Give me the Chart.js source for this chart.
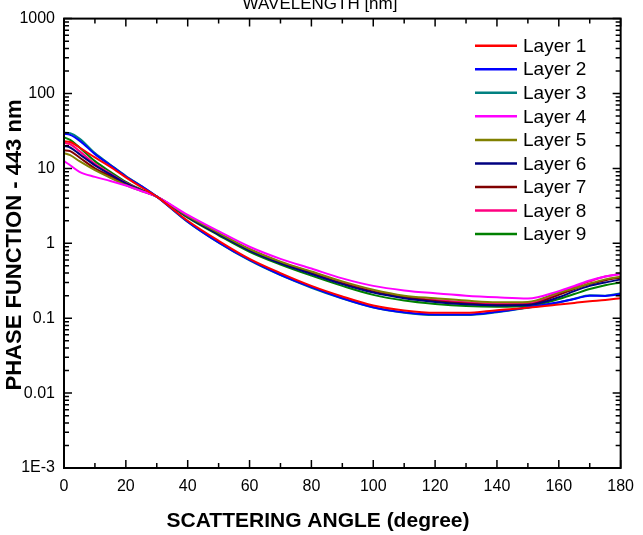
<!DOCTYPE html>
<html><head><meta charset="utf-8">
<script src="https://cdn.jsdelivr.net/npm/chart.js@4/dist/chart.umd.min.js"></script>
<style>html,body{margin:0;padding:0;background:#fff}#wrap{width:643px;height:535px}</style>
</head><body><div id="wrap"><canvas id="c" width="643" height="535"></canvas></div>
<script>
const angles = [0,2,5,10,15,20,25,30,40,50,60,70,80,90,100,110,120,130,140,150,160,165,170,175,180];
const layer1 = [23,22.5,19,14,10.5,7.6,5.6,4.2,2.0,1.08,0.62,0.4,0.27,0.195,0.148,0.127,0.118,0.118,0.128,0.138,0.152,0.16,0.168,0.175,0.185];
const layer2 = [29,28,23.5,15.5,11,7.8,5.8,4.2,1.95,1.03,0.6,0.38,0.26,0.185,0.14,0.12,0.112,0.112,0.122,0.14,0.163,0.18,0.2,0.198,0.21];
const layer3 = [30,29.5,25,16,11.2,7.9,5.8,4.2,1.93,1.02,0.59,0.375,0.255,0.183,0.139,0.118,0.11,0.11,0.12,0.138,0.162,0.182,0.202,0.2,0.215];
const layer4 = [12.5,11,9,7.7,6.8,5.9,5.0,4.2,2.4,1.45,0.9,0.62,0.46,0.34,0.27,0.235,0.215,0.2,0.19,0.183,0.23,0.27,0.32,0.36,0.39];
const layer5 = [16,15,12.5,9.5,7.5,6.0,5.0,4.2,2.3,1.38,0.84,0.57,0.42,0.31,0.24,0.2,0.185,0.172,0.163,0.165,0.22,0.25,0.29,0.33,0.36];
const layer6 = [20,19,15.5,11,8.3,6.3,5.1,4.2,2.25,1.32,0.8,0.54,0.39,0.285,0.22,0.185,0.165,0.153,0.148,0.15,0.19,0.23,0.27,0.3,0.33];
const layer7 = [17.5,17,14,10,7.9,6.2,5.1,4.2,2.28,1.35,0.82,0.55,0.4,0.29,0.225,0.19,0.17,0.157,0.15,0.152,0.205,0.245,0.285,0.32,0.35];
const layer8 = [22,21,17,11.5,8.5,6.4,5.1,4.2,2.3,1.36,0.83,0.56,0.41,0.3,0.23,0.195,0.175,0.163,0.155,0.158,0.215,0.26,0.31,0.36,0.39];
const layer9 = [26,24,19,12.5,9,6.6,5.2,4.2,2.2,1.28,0.77,0.52,0.37,0.27,0.205,0.172,0.155,0.145,0.142,0.145,0.18,0.21,0.245,0.275,0.3];
const layerNames = ['Layer 1','Layer 2','Layer 3','Layer 4','Layer 5','Layer 6','Layer 7','Layer 8','Layer 9'];
const layerColors = ['#ff0000','#0000ff','#008080','#ff00ff','#808000','#000080','#800000','#ff0080','#008000'];
const yTickValues = [1000,100,10,1,0.1,0.01,0.001];
const yTickLabels = ['1000','100','10','1','0.1','0.01','1E-3'];
const xTickValues = [0,20,40,60,80,100,120,140,160,180];
const xMinorValues = [10,30,50,70,90,110,130,150,170];
const titleText = 'WAVELENGTH [nm]';
const xTitle = 'SCATTERING ANGLE (degree)';
const yTitle = 'PHASE FUNCTION - 443 nm';

const allLayers = [layer1,layer2,layer3,layer4,layer5,layer6,layer7,layer8,layer9];
const FONT = '"Liberation Sans", Arial, sans-serif';

const decorPlugin = {
  id: 'decor',
  afterDraw(chart) {
    const ctx = chart.ctx, a = chart.chartArea;
    const xs = chart.scales.x, ys = chart.scales.y;
    ctx.save();
    ctx.strokeStyle = '#000';
    ctx.lineWidth = 1.5;
    ctx.beginPath();
    const tick = (x1,y1,x2,y2)=>{ctx.moveTo(x1,y1);ctx.lineTo(x2,y2);};
    xTickValues.forEach(v=>{const p=xs.getPixelForValue(v);tick(p,a.bottom,p,a.bottom-8);tick(p,a.top,p,a.top+8);});
    xMinorValues.forEach(v=>{const p=xs.getPixelForValue(v);tick(p,a.bottom,p,a.bottom-5);tick(p,a.top,p,a.top+5);});
    yTickValues.forEach(v=>{const p=ys.getPixelForValue(v);tick(a.left,p,a.left+8,p);tick(a.right,p,a.right-8,p);});
    yTickValues.forEach(v=>{ if(v>=1000) return; for(let k=2;k<=9;k++){const p=ys.getPixelForValue(v*k);tick(a.left,p,a.left+5,p);tick(a.right,p,a.right-5,p);} });
    ctx.stroke();
    ctx.lineWidth = 2;
    ctx.strokeRect(a.left, a.top, a.right-a.left, a.bottom-a.top);
    // titles
    ctx.fillStyle = '#000';
    ctx.textAlign = 'center';
    ctx.textBaseline = 'alphabetic';
    ctx.font = '17px ' + FONT;
    ctx.fillText(titleText, 320, 9);
    ctx.font = 'bold 21px ' + FONT;
    ctx.textBaseline = 'middle';
    ctx.fillText(xTitle, 318, 521);
    ctx.save();
    ctx.font = 'bold 22px ' + FONT;
    ctx.translate(15, 245);
    ctx.rotate(-Math.PI/2);
    ctx.fillText(yTitle, 0, 0);
    ctx.restore();
    // legend
    ctx.font = '19px ' + FONT;
    ctx.textAlign = 'left';
    chart.data.datasets.forEach((ds,i)=>{
      const y = 45.7 + i*23.55;
      ctx.strokeStyle = ds.borderColor;
      ctx.lineWidth = 2.5;
      ctx.beginPath(); ctx.moveTo(475,y); ctx.lineTo(517,y); ctx.stroke();
      ctx.fillStyle = '#000';
      ctx.fillText(ds.label, 523, y+1);
    });
    ctx.restore();
  }
};

new Chart(document.getElementById('c'), {
  type: 'line',
  data: {
    datasets: allLayers.map((vals,i)=>({
      label: layerNames[i],
      data: angles.map((ang,j)=>({x:ang,y:vals[j]})),
      borderColor: layerColors[i],
      backgroundColor: layerColors[i],
      borderWidth: 2,
      pointRadius: 0,
      fill: false,
      cubicInterpolationMode: 'monotone'
    }))
  },
  options: {
    responsive: false,
    animation: false,
    devicePixelRatio: 1,
    layout: { padding: { top: 18, right: 19, left: 0, bottom: 0 } },
    plugins: { legend: { display: false }, tooltip: { enabled: false } },
    scales: {
      x: {
        type: 'linear', min: 0, max: 180,
        afterBuildTicks: s => { s.ticks = xTickValues.map(v=>({value:v})); },
        afterFit: s => { s.height = 67; },
        grid: { display: false, drawTicks: false },
        border: { display: false },
        ticks: { color: '#000', font: { family: FONT, size: 16 }, padding: 9, maxRotation: 0, autoSkip: false }
      },
      y: {
        type: 'logarithmic', min: 0.001, max: 1000,
        afterBuildTicks: s => { s.ticks = yTickValues.map(v=>({value:v})); },
        afterFit: s => { s.width = 64; },
        grid: { display: false, drawTicks: false },
        border: { display: false },
        ticks: { color: '#000', font: { family: FONT, size: 16 }, padding: 9, autoSkip: false,
          callback: v => { const i = yTickValues.findIndex(t=>Math.abs(t-v)/t<1e-6); return i>=0 ? yTickLabels[i] : ''; } }
      }
    }
  },
  plugins: [decorPlugin]
});
</script></body></html>
